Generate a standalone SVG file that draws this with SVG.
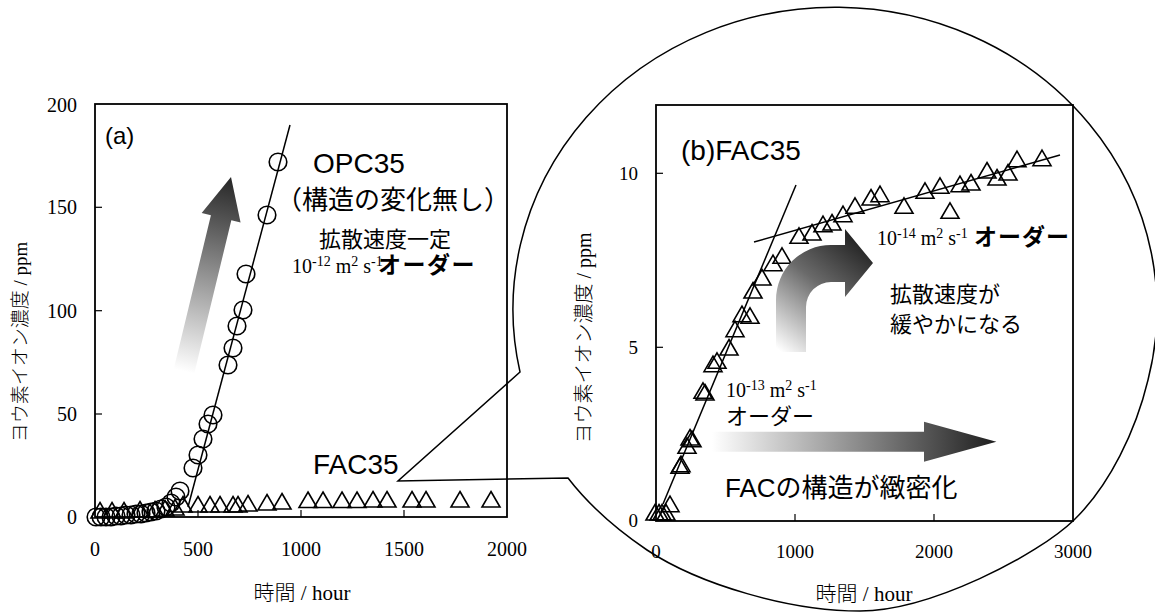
<svg xmlns="http://www.w3.org/2000/svg" width="1155" height="613" viewBox="0 0 1155 613">
<style>
.frame{fill:none;stroke:#000;stroke-width:1.8}
.tick{stroke:#000;stroke-width:1.2}
.fit{stroke:#000;stroke-width:1.5;fill:none}
.sans{font-family:"Liberation Sans","Noto Sans CJK JP",sans-serif;fill:#000}
.jp{font-family:"Noto Sans CJK JP",sans-serif;fill:#000}
.tm{font-family:"Liberation Serif","Times New Roman",serif;fill:#000}
.call{fill:none;stroke:#000;stroke-width:1.5}
</style>
<defs>
<path id="tri" d="M0,-15.5 L9,0 L-9,0 Z" fill="none" stroke="#000" stroke-width="1.6"/>
<circle id="cir" r="8.8" fill="none" stroke="#000" stroke-width="1.6"/>
<linearGradient id="gUp" gradientUnits="userSpaceOnUse" x1="0" y1="0" x2="0" y2="200">
<stop offset="0" stop-color="#262626"/><stop offset="0.25" stop-color="#5a5a5a"/><stop offset="1" stop-color="#ffffff"/>
</linearGradient>
<linearGradient id="gRight" gradientUnits="userSpaceOnUse" x1="712" y1="0" x2="996" y2="0">
<stop offset="0" stop-color="#ffffff"/><stop offset="1" stop-color="#1e1e1e"/>
</linearGradient>
<linearGradient id="gBend" gradientUnits="userSpaceOnUse" x1="785" y1="355" x2="872" y2="245">
<stop offset="0" stop-color="#ffffff"/><stop offset="0.55" stop-color="#6a6a6a"/><stop offset="1" stop-color="#1e1e1e"/>
</linearGradient>
</defs>

<!-- callout magnifier -->
<g id="callout">
<path class="call" d="M 520,372 A 322 302 0 1 1 1148,380 C 1136,430 1110,485 1074,520 C 1038,555 930,611 860,611 C 790,611 700,585 647,550 C 610,525 585,500 568,478 L 398,481 Z"/>
</g>

<!-- chart (a) -->
<g id="chart-a">
<rect class="frame" x="95" y="104" width="412" height="413"/>
<g class="tick">
<line x1="95" y1="207.3" x2="102" y2="207.3"/>
<line x1="95" y1="310.7" x2="102" y2="310.7"/>
<line x1="95" y1="414" x2="102" y2="414"/>
<line x1="198" y1="517" x2="198" y2="510"/>
<line x1="301" y1="517" x2="301" y2="510"/>
<line x1="404" y1="517" x2="404" y2="510"/>
</g>
<g class="tm" font-size="20" text-anchor="end">
<text class="tm" x="77" y="111.5">200</text>
<text class="tm" x="77" y="214">150</text>
<text class="tm" x="77" y="317.5">100</text>
<text class="tm" x="77" y="421">50</text>
<text class="tm" x="77" y="524">0</text>
</g>
<g class="tm" font-size="20" text-anchor="middle">
<text class="tm" x="95" y="556">0</text>
<text class="tm" x="198" y="556">500</text>
<text class="tm" x="301" y="556">1000</text>
<text class="tm" x="404" y="556">1500</text>
<text class="tm" x="507" y="556">2000</text>
</g>
<text class="jp" font-size="19" font-weight="300" text-anchor="middle" transform="translate(27,342) rotate(-90)">ヨウ素イオン濃度<tspan class="tm" font-weight="normal"> / ppm</tspan></text>
<text class="jp" font-size="21" font-weight="300" text-anchor="middle" x="302" y="600">時間<tspan class="tm" font-weight="normal"> / hour</tspan></text>
<line class="fit" x1="290" y1="125" x2="188" y2="507"/>
<g id="opc-points">
<use href="#cir" x="278" y="162"/><use href="#cir" x="267" y="215"/><use href="#cir" x="246" y="274"/>
<use href="#cir" x="243" y="310"/><use href="#cir" x="237" y="326"/><use href="#cir" x="233" y="348"/>
<use href="#cir" x="228" y="365"/><use href="#cir" x="213" y="415"/><use href="#cir" x="208" y="424"/>
<use href="#cir" x="203" y="439"/><use href="#cir" x="198" y="455"/><use href="#cir" x="193" y="468"/>
<use href="#cir" x="180" y="491"/><use href="#cir" x="176" y="497"/><use href="#cir" x="171" y="503"/>
<use href="#cir" x="166" y="507"/><use href="#cir" x="161" y="509"/><use href="#cir" x="156" y="511"/>
<use href="#cir" x="151" y="512"/><use href="#cir" x="146" y="513"/><use href="#cir" x="141" y="514"/>
<use href="#cir" x="136" y="514"/><use href="#cir" x="131" y="515"/><use href="#cir" x="126" y="515"/>
<use href="#cir" x="121" y="516"/><use href="#cir" x="116" y="516"/><use href="#cir" x="111" y="517"/>
<use href="#cir" x="106" y="517"/><use href="#cir" x="101" y="517"/><use href="#cir" x="96" y="517"/>
</g>
<g id="fac-points-a">
<use href="#tri" x="100" y="518"/><use href="#tri" x="112" y="518"/><use href="#tri" x="124" y="518"/>
<use href="#tri" x="140" y="517"/><use href="#tri" x="155" y="517"/><use href="#tri" x="165" y="516"/>
<use href="#tri" x="175" y="515"/><use href="#tri" x="183" y="512"/><use href="#tri" x="198" y="512"/>
<use href="#tri" x="210" y="512"/><use href="#tri" x="220" y="512"/><use href="#tri" x="233" y="512"/>
<use href="#tri" x="238" y="512"/><use href="#tri" x="248" y="511"/><use href="#tri" x="267" y="510"/>
<use href="#tri" x="282" y="509"/><use href="#tri" x="308" y="507.5"/><use href="#tri" x="323" y="507.5"/>
<use href="#tri" x="342" y="507.5"/><use href="#tri" x="357" y="507.5"/><use href="#tri" x="373" y="507"/>
<use href="#tri" x="387" y="507"/><use href="#tri" x="412" y="507"/><use href="#tri" x="426" y="507"/>
<use href="#tri" x="460" y="507"/><use href="#tri" x="491" y="507"/>
</g>
<polygon fill="url(#gUp)" transform="translate(231,177) rotate(13.6)" points="0,0 20,42 10.5,42 10.5,200 -10.5,200 -10.5,42 -20,42"/>
<text class="sans" x="105" y="144" font-size="24">(a)</text>
<text class="sans" x="313" y="173" font-size="28">OPC35</text>
<text class="jp" x="393" y="209" font-size="26" text-anchor="middle">（構造の変化無し）</text>
<text class="jp" x="385" y="247" font-size="22" text-anchor="middle">拡散速度一定</text>
<text x="292" y="273" fill="#000"><tspan class="tm" font-size="20">10</tspan><tspan class="tm" font-size="14" dy="-7">-12</tspan><tspan class="tm" font-size="20" dy="7"> m</tspan><tspan class="tm" font-size="14" dy="-7">2</tspan><tspan class="tm" font-size="20" dy="7"> s</tspan><tspan class="tm" font-size="14" dy="-7">-1</tspan><tspan class="jp" x="378" dy="7" font-size="23" font-weight="bold" letter-spacing="1.5">オーダー</tspan></text>
<text class="sans" x="313" y="474" font-size="28">FAC35</text>
</g>

<!-- chart (b) -->
<g id="chart-b">
<rect class="frame" x="656" y="105" width="417" height="416"/>
<g class="tick">
<line x1="656" y1="173.3" x2="663" y2="173.3"/>
<line x1="656" y1="347.3" x2="663" y2="347.3"/>
<line x1="795" y1="521" x2="795" y2="514"/>
<line x1="934" y1="521" x2="934" y2="514"/>
</g>
<g class="tm" font-size="19" text-anchor="end">
<text class="tm" x="638" y="180">10</text>
<text class="tm" x="638" y="354">5</text>
<text class="tm" x="638" y="527">0</text>
</g>
<g class="tm" font-size="19" text-anchor="middle">
<text class="tm" x="656" y="558">0</text>
<text class="tm" x="795" y="558">1000</text>
<text class="tm" x="934" y="558">2000</text>
<text class="tm" x="1073" y="558">3000</text>
</g>
<text class="jp" font-size="20" font-weight="300" text-anchor="middle" transform="translate(591,338) rotate(-90)">ヨウ素イオン濃度<tspan class="tm" font-weight="normal"> / ppm</tspan></text>
<text class="jp" font-size="21" font-weight="300" text-anchor="middle" x="864" y="601">時間<tspan class="tm" font-weight="normal"> / hour</tspan></text>
<line class="fit" x1="663" y1="504" x2="796" y2="185"/>
<line class="fit" x1="754" y1="242" x2="1060" y2="155"/>
<g id="fac-points-b">
<use href="#tri" x="655" y="520"/><use href="#tri" x="659" y="520"/><use href="#tri" x="662" y="520"/>
<use href="#tri" x="666" y="520"/><use href="#tri" x="670" y="511.7"/>
<use href="#tri" x="680" y="473.3"/><use href="#tri" x="681" y="471.7"/><use href="#tri" x="687" y="453.3"/>
<use href="#tri" x="690" y="445"/><use href="#tri" x="692" y="446.7"/>
<use href="#tri" x="703" y="398.3"/><use href="#tri" x="705" y="400"/>
<use href="#tri" x="713" y="371.7"/><use href="#tri" x="717" y="368.3"/>
<use href="#tri" x="729" y="355"/><use href="#tri" x="735" y="336.7"/>
<use href="#tri" x="742" y="321.7"/><use href="#tri" x="750" y="323.3"/>
<use href="#tri" x="753" y="298"/><use href="#tri" x="762" y="285"/>
<use href="#tri" x="773" y="270.7"/><use href="#tri" x="782" y="263.3"/>
<use href="#tri" x="799" y="243.3"/><use href="#tri" x="812" y="240"/><use href="#tri" x="823" y="231.7"/>
<use href="#tri" x="832" y="230"/><use href="#tri" x="843" y="221.7"/>
<use href="#tri" x="855" y="213.3"/><use href="#tri" x="871" y="205"/><use href="#tri" x="880" y="201.7"/>
<use href="#tri" x="904" y="213.3"/><use href="#tri" x="925" y="198.3"/><use href="#tri" x="940" y="193.3"/>
<use href="#tri" x="950" y="218.3"/><use href="#tri" x="960" y="191.7"/><use href="#tri" x="971" y="190"/>
<use href="#tri" x="987" y="178"/><use href="#tri" x="997" y="185"/><use href="#tri" x="1008" y="180"/>
<use href="#tri" x="1017" y="166.7"/><use href="#tri" x="1042" y="165.7"/>
</g>
<path fill="url(#gBend)" d="M 776,352 L 776,300 A 55,55 0 0 1 831,245 L 845,245 L 845,229 L 873,263 L 845,297 L 845,282 L 831,282 A 25,25 0 0 0 806,307 L 806,352 Z"/>
<path fill="url(#gRight)" d="M 712,431.7 L 924,431.7 L 924,421.7 L 996.4,441.7 L 924,461.7 L 924,451.7 L 712,451.7 Z"/>
<text class="sans" x="681" y="160" font-size="28">(b)FAC35</text>
<text x="877" y="245" fill="#000"><tspan class="tm" font-size="20">10</tspan><tspan class="tm" font-size="14" dy="-7">-14</tspan><tspan class="tm" font-size="20" dy="7"> m</tspan><tspan class="tm" font-size="14" dy="-7">2</tspan><tspan class="tm" font-size="20" dy="7"> s</tspan><tspan class="tm" font-size="14" dy="-7">-1</tspan><tspan class="jp" x="974" dy="7" font-size="23" font-weight="bold" letter-spacing="1">オーダー</tspan></text>
<text class="jp" x="890" y="302" font-size="22">拡散速度が</text>
<text class="jp" x="890" y="332" font-size="22">緩やかになる</text>
<text x="726" y="397" fill="#000"><tspan class="tm" font-size="20">10</tspan><tspan class="tm" font-size="14" dy="-7">-13</tspan><tspan class="tm" font-size="20" dy="7"> m</tspan><tspan class="tm" font-size="14" dy="-7">2</tspan><tspan class="tm" font-size="20" dy="7"> s</tspan><tspan class="tm" font-size="14" dy="-7">-1</tspan></text>
<text class="jp" x="726" y="424" font-size="22">オーダー</text>
<text class="sans" x="725" y="497" font-size="26">FACの構造が緻密化</text>
</g>
</svg>
